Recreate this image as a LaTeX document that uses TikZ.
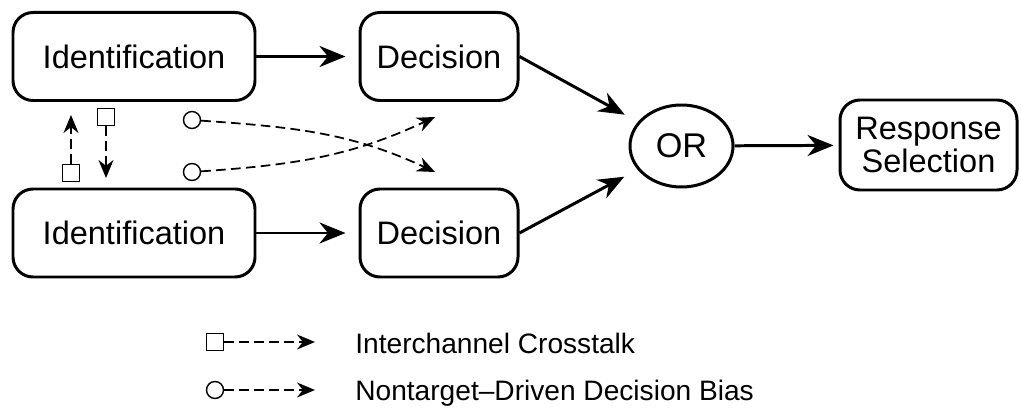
\documentclass[tikz,border=0pt]{standalone}
\usepackage{fontspec}
\setmainfont{Liberation Sans}
\usetikzlibrary{arrows.meta,shapes.geometric}
\begin{document}
\begin{tikzpicture}[>={Stealth[length=5.2mm,width=4.2mm]},
    stagebox/.style={draw,line width=1.7pt,rounded corners=0.4cm,minimum height=1.76cm,
      font=\fontsize{18.5}{15.5}\selectfont,align=center},
    flow/.style={line width=1.7pt,->},
    crossed/.style={line width=1pt,dash pattern=on 5.5pt off 3pt,
      -{Stealth[length=3.6mm,width=3mm]}},
    tinysq/.style={draw,line width=0.8pt,minimum size=0.34cm,inner sep=0pt},
    tinycirc/.style={draw,circle,line width=0.8pt,minimum size=0.34cm,inner sep=0pt},
    keytext/.style={anchor=base west,inner sep=0pt,font=\fontsize{16}{19}\selectfont}]
    \useasboundingbox (0,0) rectangle (20.42,8.2);

    % the two channels
    \node[stagebox,minimum width=4.84cm] (id1) at (2.68,7.07) {Identification};
    \node[stagebox,minimum width=3.16cm] (dec1) at (8.78,7.07) {Decision};
    \node[stagebox,minimum width=4.84cm] (id2) at (2.68,3.54) {Identification};
    \node[stagebox,minimum width=3.16cm] (dec2) at (8.78,3.54) {Decision};
    \node[draw,ellipse,line width=1.7pt,minimum width=2.06cm,minimum height=1.64cm,
      font=\fontsize{19.5}{20}\selectfont] (or) at (13.63,5.28) {OR};
    \node[stagebox,minimum width=3.54cm,minimum height=1.8cm] (resp) at (18.57,5.30) {Response\\Selection};

    \draw[flow,shorten >=0.26cm] (id1) -- (dec1);
    \draw[flow,shorten >=0.26cm] (id2) -- (dec2);
    \draw[flow,shorten >=0.3cm] (dec1.east) -- (or);
    \draw[flow,shorten >=0.3cm] (dec2.east) -- (or);
    \draw[flow,shorten >=0.1cm] (or) -- (resp);

    % crosstalk between channels
    \node[tinysq] (squp) at (1.42,4.74) {};
    \coordinate (squp end) at (1.42,5.90);
    \draw[crossed] (squp) -- (squp end);
    \node[tinysq] (sqdown) at (2.12,5.86) {};
    \coordinate (sqdown end) at (2.12,4.64);
    \draw[crossed] (sqdown) -- (sqdown end);

    % decision bias
    \node[tinycirc] (cup) at (3.84,5.80) {};
    \node[tinycirc] (cdown) at (3.84,4.76) {};
    \coordinate (cup end) at (8.70,4.76);
    \coordinate (cdown end) at (8.70,5.86);
    \draw[crossed] (cup) to[out=-4,in=155] (cup end);
    \draw[crossed] (cdown) to[out=4,in=-155] (cdown end);

    % legend
    \node[tinysq] (keysq) at (4.30,1.36) {};
    \coordinate (keysq end) at (6.30,1.36);
    \draw[crossed] (keysq) -- (keysq end);
    \node[keytext] (keytalk) at (7.10,1.14) {Interchannel Crosstalk};
    \node[tinycirc] (keyc) at (4.30,0.40) {};
    \coordinate (keyc end) at (6.30,0.40);
    \draw[crossed] (keyc) -- (keyc end);
    \node[keytext] (keybias) at (7.10,0.20) {Nontarget--Driven Decision Bias};
\end{tikzpicture}
\end{document}
